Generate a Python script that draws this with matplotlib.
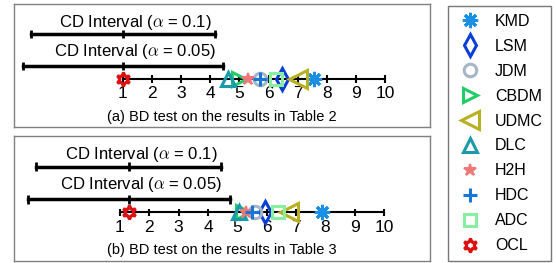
import matplotlib
matplotlib.use('Agg')
import matplotlib.pyplot as plt

plt.rcParams['font.family'] = ['Liberation Sans', 'DejaVu Sans']
plt.rcParams['mathtext.fontset'] = 'cm'

# methods and their average ranks
methods = ['KMD', 'LSM', 'JDM', 'CBDM', 'UDMC', 'DLC', 'H2H', 'HDC', 'ADC', 'OCL']
ranks_table2 = [7.55, 6.45, 5.7, 5.0, 7.0, 4.6, 5.3, 5.7, 6.25, 1.0]
ranks_table3 = [7.9, 5.95, 5.6, 5.2, 6.75, 5.05, 5.3, 5.5, 6.4, 1.3]
best_table2 = 1.0
best_table3 = 1.3
cd_01 = 3.16   # CD interval half width, alpha = 0.1
cd_005 = 3.45  # CD interval half width, alpha = 0.05
ticks = list(range(1, 11))
captions = ['(a) BD test on the results in Table 2', '(b) BD test on the results in Table 3']

# marker styles for each method
styles = {
    'KMD':  dict(marker=(8, 2, 0), color='#1a8fe3', ms=11, mew=2.2),
    'LSM':  dict(marker='d', color='#0a3fd6', ms=11, mew=2.2, mfc='none'),
    'JDM':  dict(marker='o', color='#a8b4c8', ms=9, mew=2.2, mfc='none'),
    'CBDM': dict(marker='>', color='#22cc66', ms=10, mew=2.2, mfc='none'),
    'UDMC': dict(marker='<', color='#b8b020', ms=13, mew=2.2, mfc='none'),
    'DLC':  dict(marker='^', color='#1a9aaa', ms=10, mew=2.2, mfc='none'),
    'H2H':  dict(marker='*', color='#f07878', ms=9, mew=1.5),
    'HDC':  dict(marker='+', color='#1777d8', ms=10, mew=2.2),
    'ADC':  dict(marker='s', color='#88eea0', ms=9, mew=2.2, mfc='none'),
    'OCL':  dict(marker=(6, 1, 0), color='#dd1111', ms=10, mew=2.2, mfc='none'),
}

fig = plt.figure(figsize=(5.56, 2.63), dpi=100)

# panel boxes in figure fraction
ax_top = fig.add_axes([14/556, 1-127/263, 416/556, 123/263])
ax_bot = fig.add_axes([14/556, 1-261/263, 416/556, 125/263])

def draw_panel(ax, ranks, best, caption, xlim):
    ax.set_xlim(*xlim)
    ax.set_ylim(0, 1)
    ax.set_xticks([])
    ax.set_yticks([])
    for s in ax.spines.values():
        s.set_color('#808080')
        s.set_linewidth(1.0)

    y_axis = 0.39
    # number line
    ax.plot([ticks[0], ticks[-1]], [y_axis, y_axis], color='k', lw=1.5, zorder=1)
    ax.vlines(ticks, y_axis - 0.03, y_axis + 0.03, color='k', lw=1.5, zorder=1)
    for t in ticks:
        ax.text(t, 0.27, str(t), ha='center', va='center', fontsize=12.5)

    # CD intervals
    for half, y_bar, y_txt, lab in [(cd_01, 0.755, 0.85, r'CD Interval ($\alpha$ = 0.1)'),
                                    (cd_005, 0.495, 0.61, r'CD Interval ($\alpha$ = 0.05)')]:
        ax.plot([best - half, best + half], [y_bar, y_bar], color='k', lw=2.5)
        ax.vlines([best - half, best, best + half], y_bar - 0.035, y_bar + 0.035, color='k', lw=2)
        ax.text(best + 0.42, y_txt, lab, ha='center', va='center', fontsize=12)

    handles = []
    for m, r in zip(methods, ranks):
        h, = ax.plot([r], [y_axis], linestyle='none', label=m, zorder=3, **styles[m])
        handles.append(h)

    ax.text(0.5, 0.085, caption, transform=ax.transAxes, ha='center', va='center', fontsize=10.5)
    return handles

handles = draw_panel(ax_top, ranks_table2, best_table2, captions[0], (-2.744, 11.546))
draw_panel(ax_bot, ranks_table3, best_table3, captions[1], (-2.614, 11.57))

leg = fig.legend(handles=handles, loc='upper left', bbox_to_anchor=(448/556, 1-6/263),
                 frameon=True, fancybox=False, edgecolor='#555555', fontsize=11.5,
                 numpoints=1, labelspacing=0.62, handlelength=1.8, handletextpad=0.65,
                 borderpad=0.5, borderaxespad=0)
leg.get_frame().set_linewidth(1.0)

fig.savefig('out.png', dpi=100)
